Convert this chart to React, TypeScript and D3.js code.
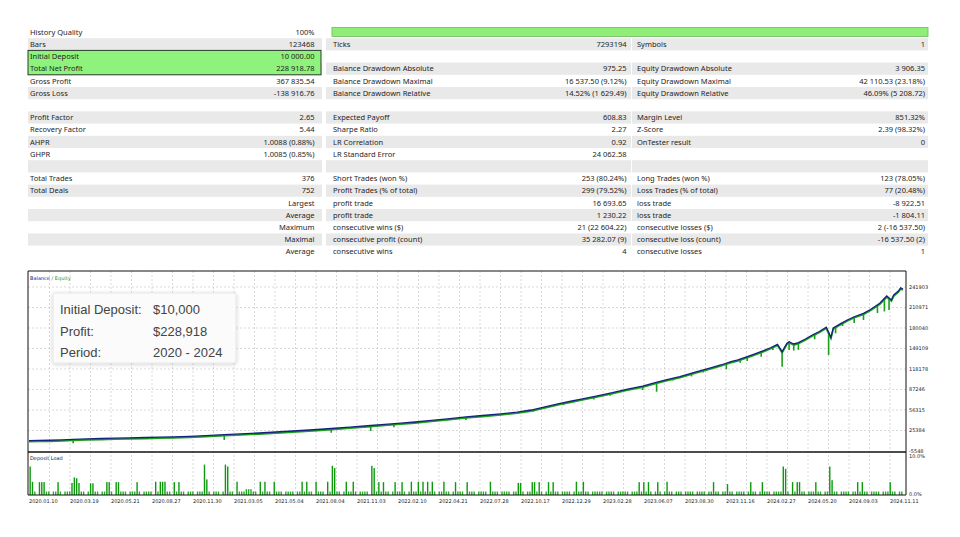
import * as React from 'react';
import * as d3 from 'd3';

type Cell = [string, string] | null;

// report table, one list per column group, 19 rows (null = empty row)
const colLeft: Cell[] = [
  ['History Quality', '100%'],
  ['Bars', '123468'],
  ['Initial Deposit', '10 000.00'],
  ['Total Net Profit', '228 918.78'],
  ['Gross Profit', '367 835.54'],
  ['Gross Loss', '-138 916.76'],
  null,
  ['Profit Factor', '2.65'],
  ['Recovery Factor', '5.44'],
  ['AHPR', '1.0088 (0.88%)'],
  ['GHPR', '1.0085 (0.85%)'],
  null,
  ['Total Trades', '376'],
  ['Total Deals', '752'],
  ['', 'Largest'],
  ['', 'Average'],
  ['', 'Maximum'],
  ['', 'Maximal'],
  ['', 'Average'],
];

const colMid: Cell[] = [
  null,
  ['Ticks', '7293194'],
  null,
  ['Balance Drawdown Absolute', '975.25'],
  ['Balance Drawdown Maximal', '16 537.50 (9.12%)'],
  ['Balance Drawdown Relative', '14.52% (1 629.49)'],
  null,
  ['Expected Payoff', '608.83'],
  ['Sharpe Ratio', '2.27'],
  ['LR Correlation', '0.92'],
  ['LR Standard Error', '24 062.58'],
  null,
  ['Short Trades (won %)', '253 (80.24%)'],
  ['Profit Trades (% of total)', '299 (79.52%)'],
  ['profit trade', '16 693.65'],
  ['profit trade', '1 230.22'],
  ['consecutive wins ($)', '21 (22 604.22)'],
  ['consecutive profit (count)', '35 282.07 (9)'],
  ['consecutive wins', '4'],
];

const colRight: Cell[] = [
  null,
  ['Symbols', '1'],
  null,
  ['Equity Drawdown Absolute', '3 906.35'],
  ['Equity Drawdown Maximal', '42 110.53 (23.18%)'],
  ['Equity Drawdown Relative', '46.09% (5 208.72)'],
  null,
  ['Margin Level', '851.32%'],
  ['Z-Score', '2.39 (98.32%)'],
  ['OnTester result', '0'],
  null,
  null,
  ['Long Trades (won %)', '123 (78.05%)'],
  ['Loss Trades (% of total)', '77 (20.48%)'],
  ['loss trade', '-8 922.51'],
  ['loss trade', '-1 804.11'],
  ['consecutive losses ($)', '2 (-16 537.50)'],
  ['consecutive loss (count)', '-16 537.50 (2)'],
  ['consecutive losses', '1'],
];

// balance by trade number
const balance: [number, number][] = [
  [0, 10000], [4, 10350], [9, 10700], [14, 11300], [19, 12100], [25, 12700],
  [31, 13300], [37, 13900], [43, 14400], [50, 14800], [56, 15300], [62, 15900],
  [69, 16600], [76, 17800], [84, 19200], [91, 20300], [99, 21600], [108, 23500],
  [117, 25400], [124, 26900], [130, 28400], [138, 30500], [147, 32900], [153, 34700],
  [160, 36400], [166, 38200], [172, 40300], [180, 43000], [188, 45800], [195, 48000],
  [203, 50600], [210, 53200], [216, 56300], [222, 61000], [228, 66100], [233, 69500],
  [237, 72500], [244, 77400], [251, 82400], [257, 87300], [264, 92500], [269, 97200],
  [274, 101600], [280, 106600], [287, 113800], [294, 120700], [298, 124600], [302, 129200],
  [305, 132000], [309, 136700], [312, 140500], [316, 145800], [319, 150200], [322, 155400],
  [324, 144300], [326, 156600], [327, 159400], [329, 155900], [331, 157900], [334, 163500],
  [337, 169500], [340, 174800], [343, 181100], [345, 166000], [346, 180000], [349, 186300],
  [352, 192100], [355, 197000], [359, 202200], [362, 208000], [366, 217300], [369, 228300],
  [371, 222300], [372, 229800], [374, 235700], [375, 240500], [376, 238919],
];

// equity lows between closed trades: [trade, equity]
const equityDips: [number, number][] = [
  [19, 6094], [35, 12800], [60, 14900], [84, 11100], [100, 20000], [110, 22300],
  [130, 22000], [147, 24600], [157, 30200], [165, 35500], [175, 39800], [188, 41200],
  [200, 47500], [217, 53800], [230, 64000], [243, 72000], [250, 78000], [264, 86500],
  [270, 83900], [277, 101000], [285, 107000], [290, 113000], [300, 117700], [306, 127500],
  [309, 130300], [315, 136700], [320, 146800], [324, 121700], [327, 146800], [329, 146000],
  [331, 147000], [338, 163000], [344, 139400], [347, 172000], [350, 183000], [355, 187600],
  [359, 192100], [365, 202700], [368, 205000], [370, 207200],
];

const yTicks = [-5548, 25384, 56315, 87246, 118178, 149109, 180040, 210971, 241903];

const dateLabels = [
  '2020.01.10', '2020.03.19', '2020.05.21', '2020.08.27', '2020.11.30', '2021.03.05',
  '2021.05.04', '2021.08.04', '2021.11.03', '2022.02.10', '2022.04.21', '2022.07.28',
  '2022.10.17', '2022.12.29', '2023.02.28', '2023.06.07', '2023.08.30', '2023.11.16',
  '2024.02.27', '2024.05.20', '2024.09.03', '2024.11.11',
];

// deposit load per trade, in tenths of a percent
const depositLoad = [
  73, 34, 9, 0, 33, 33, 33, 9, 9, 0, 9, 9, 33, 9, 0, 9, 9, 9, 31, 45,
  43, 31, 9, 9, 0, 9, 30, 30, 9, 9, 0, 9, 9, 33, 33, 9, 0, 33, 33, 9,
  9, 9, 0, 9, 9, 9, 33, 9, 0, 9, 9, 9, 9, 0, 34, 9, 34, 34, 34, 9,
  9, 0, 33, 9, 33, 9, 9, 0, 9, 9, 9, 0, 9, 9, 9, 78, 40, 9, 0, 9,
  9, 9, 0, 9, 78, 73, 9, 9, 0, 34, 9, 9, 9, 15, 15, 15, 9, 9, 0, 34,
  9, 34, 9, 9, 0, 34, 9, 9, 9, 0, 9, 9, 9, 9, 0, 9, 9, 34, 9, 34,
  9, 9, 0, 34, 9, 9, 9, 0, 34, 9, 75, 69, 9, 9, 0, 9, 34, 9, 9, 34,
  9, 0, 9, 9, 9, 9, 0, 75, 69, 9, 33, 9, 33, 9, 9, 0, 9, 33, 9, 9,
  33, 9, 0, 9, 34, 9, 9, 34, 9, 34, 9, 34, 9, 34, 9, 0, 9, 9, 34, 9,
  9, 0, 9, 33, 9, 9, 9, 0, 33, 9, 9, 9, 0, 9, 9, 9, 9, 0, 34, 9,
  9, 9, 0, 9, 9, 9, 9, 0, 9, 9, 31, 31, 9, 0, 9, 9, 33, 33, 9, 33,
  9, 0, 9, 33, 9, 33, 9, 9, 0, 9, 9, 9, 9, 0, 9, 34, 9, 9, 34, 9,
  9, 0, 9, 9, 9, 9, 9, 0, 9, 9, 9, 9, 0, 9, 9, 9, 9, 9, 0, 9,
  9, 9, 33, 9, 33, 9, 33, 9, 0, 9, 33, 9, 0, 9, 34, 9, 9, 0, 9, 9,
  9, 0, 9, 9, 9, 9, 0, 9, 9, 9, 9, 0, 9, 9, 33, 9, 9, 0, 9, 9,
  28, 9, 9, 0, 9, 9, 9, 9, 0, 9, 33, 9, 9, 0, 9, 33, 9, 9, 9, 0,
  9, 9, 9, 9, 73, 67, 9, 0, 33, 9, 33, 33, 9, 9, 0, 9, 9, 9, 33, 9,
  9, 0, 9, 9, 73, 38, 9, 9, 0, 9, 9, 9, 9, 0, 9, 9, 33, 9, 33, 9,
  9, 0, 9, 9, 9, 9, 0, 9, 9, 9, 33, 9, 9, 0, 9, 9,
];

const summary: [string, string][] = [
  ['Initial Deposit:', '$10,000'],
  ['Profit:', '$228,918'],
  ['Period:', '2020 - 2024'],
];

const TABLE_FONT = '"Noto Sans", sans-serif';
const CHART_FONT = '"DejaVu Sans", sans-serif';

const rowTop = (i: number) => 26 + i * 12.2;

const columns = [
  { cells: colLeft, x0: 28, x1: 322, labelX: 30, valueX: 314.5 },
  { cells: colMid, x0: 326, x1: 631, labelX: 333, valueX: 626.5 },
  { cells: colRight, x0: 632, x1: 928, labelX: 637, valueX: 925 },
];

function balanceAt(t: number) {
  for (let i = 1; i < balance.length; i++) {
    if (balance[i][0] >= t) {
      const [t0, v0] = balance[i - 1];
      const [t1, v1] = balance[i];
      return v0 + (v1 - v0) * (t - t0) / (t1 - t0);
    }
  }
  return balance[balance.length - 1][1];
}

export default function App() {
  const left = 28, right = 906, top = 271, mid = 452, bottom = 495;
  const totalTrades = 376;

  const x = d3.scaleLinear().domain([0, totalTrades]).range([29, 903]);
  const y = d3.scaleLinear().domain([yTicks[0], yTicks[yTicks.length - 1]]).range([451, 287]);
  const loadY = d3.scaleLinear().domain([0, 10]).range([bottom, 456]);

  // one date label every 41px, a grid line every half step
  const labelStep = x.invert(70) - x.invert(29);
  const gridT = d3.range(1, 43).map(i => (i * labelStep) / 2);

  const balanceLine = d3.line<[number, number]>()
    .x(d => x(d[0]))
    .y(d => y(d[1]));

  return (
    <div style={{ position: 'absolute', left: 0, top: 0 }}>
      <svg width={960} height={537} style={{ display: 'block', background: '#fff' }}>
        <defs>
          <filter id="boxShadow" x="-10%" y="-20%" width="120%" height="150%">
            <feDropShadow dx="0" dy="1" stdDeviation="2" floodColor="#000" floodOpacity="0.18" />
          </filter>
          <clipPath id="plotClip">
            <rect x={left} y={top} width={right - left} height={mid - top} />
          </clipPath>
        </defs>

        {/* table stripes */}
        {columns.map((c, ci) =>
          d3.range(19).filter(i => i % 2 === 1).map(i => (
            <rect key={`s${ci}-${i}`} x={c.x0} y={rowTop(i)} width={c.x1 - c.x0} height={12.2} fill="#e9e9e9" />
          ))
        )}
        <rect x={28} y={rowTop(2)} width={293} height={24.4} fill="#8ef27c" stroke="#2a3a2a" strokeWidth={1} />
        <rect x={332} y={27.5} width={596} height={9} fill="#90ee78" stroke="#6fb860" strokeWidth={0.8} />

        {columns.map((c, ci) =>
          c.cells.map((cell, i) => cell && (
            <g key={`t${ci}-${i}`} fontFamily={TABLE_FONT} fontSize={7.5} fill="#1e1e1e">
              {cell[0] && <text x={c.labelX} y={rowTop(i) + 8.7}>{cell[0]}</text>}
              <text x={c.valueX} y={rowTop(i) + 8.7} textAnchor="end">{cell[1]}</text>
            </g>
          ))
        )}

        {/* chart grid */}
        <g stroke="#c9c9c9" strokeWidth={0.7} strokeDasharray="2,2">
          {gridT.map((t, i) => (
            <line key={`gv${i}`} x1={x(t)} x2={x(t)} y1={top} y2={bottom} />
          ))}
          {yTicks.slice(1).map(v => (
            <line key={`gh${v}`} x1={left} x2={right} y1={y(v)} y2={y(v)} />
          ))}
        </g>

        {/* summary box */}
        <rect x={53} y={293} width={183} height={70} fill="#fbfbfb" stroke="#e6e6e6" strokeWidth={1} rx={2} filter="url(#boxShadow)" />
        {summary.map((s, i) => (
          <g key={s[0]} fontFamily='"Liberation Sans", Arial, sans-serif' fontSize={13} fill="#444">
            <text x={60} y={314 + i * 21.5}>{s[0]}</text>
            <text x={153} y={314 + i * 21.5}>{s[1]}</text>
          </g>
        ))}

        {/* equity and balance */}
        <g clipPath="url(#plotClip)">
          <path d={balanceLine(balance) || ''} fill="none" stroke="#1aa01a" strokeWidth={1.8} transform="translate(0,1)" />
          {equityDips.map(([t, v]) => (
            <line key={`d${t}`} x1={x(t)} x2={x(t)} y1={y(balanceAt(t))} y2={y(v)} stroke="#1aa01a" strokeWidth={1.6} />
          ))}
          <path d={balanceLine(balance) || ''} fill="none" stroke="#15237e" strokeWidth={1.3} />
        </g>

        {/* deposit load */}
        {depositLoad.map((v, t) => v > 0 && (
          <rect key={`l${t}`} x={x(t + 0.5) - 0.7} y={loadY(v / 10)} width={1.4} height={bottom - loadY(v / 10)}
            fill={v > 20 ? '#0c9a0c' : '#22b022'} />
        ))}

        {/* frame */}
        <g stroke="#111" fill="none">
          <line x1={left} x2={left} y1={top} y2={bottom} strokeWidth={1} />
          <line x1={left} x2={right} y1={top} y2={top} strokeWidth={1} />
          <line x1={right} x2={right} y1={top} y2={bottom} strokeWidth={1} />
          <line x1={left} x2={right} y1={mid} y2={mid} strokeWidth={1.5} />
          <line x1={left} x2={right} y1={bottom} y2={bottom} strokeWidth={1} />
        </g>

        {/* labels */}
        <g fontFamily={CHART_FONT} fontSize={5} fill="#222">
          {yTicks.map(v => (
            <text key={`y${v}`} x={909} y={y(v)} dy="0.35em">{v}</text>
          ))}
          <text x={909} y={457.5}>10.0%</text>
          <text x={909} y={bottom + 1}>0.0%</text>
          {dateLabels.map((d, i) => (
            <text key={d} x={x(i * labelStep)} y={503}>{d}</text>
          ))}
          <text x={30} y={280}>
            <tspan fill="#1a1a9a">Balance</tspan>
            <tspan fill="#666"> / </tspan>
            <tspan fill="#1a9a1a">Equity</tspan>
          </text>
          <text x={30} y={460}>Deposit Load</text>
        </g>
      </svg>
    </div>
  );
}
